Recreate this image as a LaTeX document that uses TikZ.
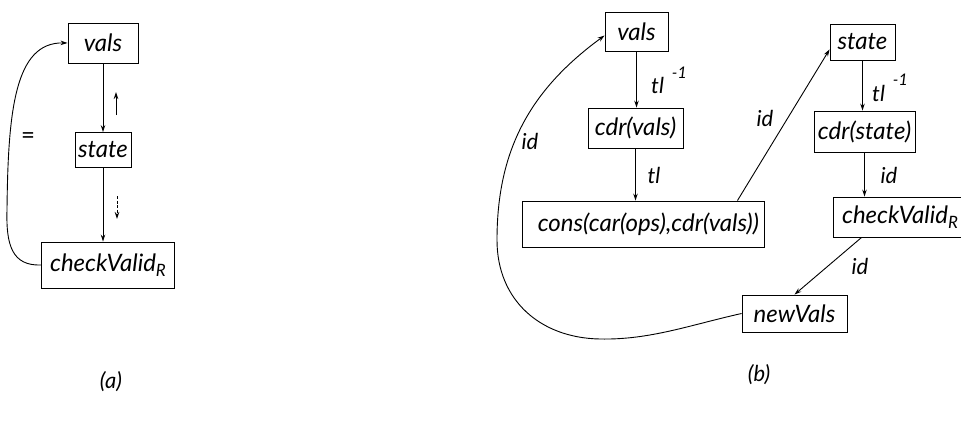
\documentclass[tikz,border=0pt]{standalone}
\usepackage{fontspec}
\setmainfont{Lato}
\usetikzlibrary{arrows.meta}
\begin{document}
\begin{tikzpicture}[x=1pt,y=-1pt,
  box/.style={draw, line width=0.9pt, inner sep=0pt, font=\fontsize{24}{28}\selectfont\itshape},
  txt/.style={inner sep=0pt, font=\fontsize{24}{28}\selectfont\itshape},
  lbl/.style={inner sep=0pt, font=\fontsize{22}{26}\selectfont\itshape},
  conn/.style={line width=0.9pt, -{Stealth[length=7pt,width=4.5pt]}}]
\useasboundingbox (0,0) rectangle (961,423);
\clip (0,0) rectangle (961,423);
% ---------- (a)
\node[box, minimum width=70pt, minimum height=40pt] (va) at (103,43) {vals};
\node[box, minimum width=56pt, minimum height=35pt] (st) at (103,150) {state};
\node[box, minimum width=133pt, minimum height=46pt] (ck) at (108,265) {checkValid\raisebox{-5pt}{\fontsize{17}{17}\selectfont R}};
\draw[conn] (va.south) -- (st.north);
\draw[conn] (st.south) -- (st.south |- ck.north);
\coordinate (ua1) at (116,115);
\coordinate (ua2) at (116,92);
\draw[conn] (ua1) -- (ua2);
\coordinate (da1) at (117,196);
\coordinate (da2) at (117,219);
\draw[conn, dash pattern=on 3pt off 1.5pt] (da1) -- (da2);
\node[inner sep=0pt, font=\fontsize{24}{28}\selectfont] (eq) at (28,138) {=};
\draw[conn] (ck.west) .. controls (12,266) and (6,245) .. (7,210)
  .. controls (8,110) and (15,42) .. (va.west);
\node[lbl] (la) at (111,382) {(a)};
% ---------- (b)
\node[box, minimum width=63pt, minimum height=39pt] (rv) at (636.5,31.5) {vals};
\node[box, minimum width=95pt, minimum height=40pt] (cv) at (635.5,128) {cdr(vals)};
\node[box, minimum width=242pt, minimum height=46pt] (cons) at (643,224) {};
\node[txt, anchor=west] (constxt) at ([xshift=16pt]cons.west) {cons(car(ops),cdr(vals))};
\node[box, minimum width=65pt, minimum height=36pt] (rs) at (862.5,42) {state};
\node[box, minimum width=101pt, minimum height=41pt] (cs) at (864.5,131.5) {cdr(state)};
\node[box, minimum width=134pt, minimum height=40pt] (rck) at (900,217) {checkValid\raisebox{-5pt}{\fontsize{17}{17}\selectfont R}};
\node[box, minimum width=105pt, minimum height=37pt] (nv) at (794.5,313.5) {newVals};
\draw[conn] (rv.south) -- (rv.south |- cv.north);
\draw[conn] (cv.south) -- (cv.south |- cons.north);
\draw[conn] ([xshift=-27pt]cons.north east) -- ([yshift=11pt]rs.south west);
\draw[conn] (rs.south) -- (rs.south |- cs.north);
\draw[conn] (cs.south) -- (cs.south |- rck.north);
\draw[conn] ([xshift=29pt]rck.south west) -- (nv.north);
\draw[conn] (nv.west) .. controls (690,325) and (650,340) .. (600,339)
  .. controls (540,338) and (497,300) .. (497,240)
  .. controls (497,150) and (530,90) .. ([yshift=-4pt]rv.west);
\node[lbl, anchor=base west] (t1) at (651,93) {tl\hspace{8pt}\raisebox{15pt}{\fontsize{16}{16}\selectfont -1}};
\node[lbl] (t2) at (654,175) {tl};
\node[lbl, anchor=base west] (t3) at (872,101) {tl\hspace{8pt}\raisebox{16pt}{\fontsize{16}{16}\selectfont -1}};
\node[lbl] (i1) at (765,118) {id};
\node[lbl] (i2) at (889,175) {id};
\node[lbl] (i3) at (860,266) {id};
\node[lbl] (i4) at (530,141) {id};
\node[lbl] (lb) at (759,375) {(b)};
\end{tikzpicture}
\end{document}
